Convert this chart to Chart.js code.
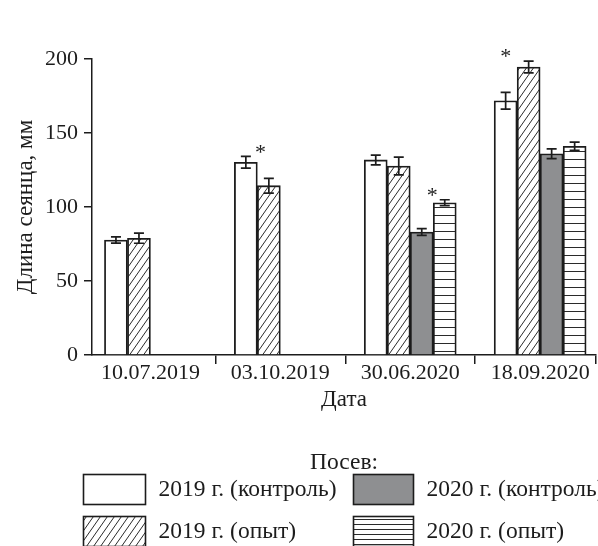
<!DOCTYPE html>
<html>
<head>
<meta charset="utf-8">
<script src="https://cdn.jsdelivr.net/npm/chart.js@4"></script>
<style>
  html, body { margin: 0; padding: 0; background: #fff; }
  #wrap { width: 598px; height: 546px; position: relative; overflow: hidden; }
</style>
</head>
<body>
<div id="wrap"><canvas id="c" width="598" height="546"></canvas></div>
<script>
// Sampling dates
const categories = ['10.07.2019', '03.10.2019', '30.06.2020', '18.09.2020'];

// Series names
const seriesLabels = ['2019 г. (контроль)', '2019 г. (опыт)', '2020 г. (контроль)', '2020 г. (опыт)'];

// Seedling length, mm (mean values)
const control2019    = [77.7, 130.2, 131.8, 171.8];
const experiment2019 = [78.9, 114.4, 127.7, 194.6];
const control2020    = [null, null, 83.1, 136.0];
const experiment2020 = [null, null, 102.9, 141.0];

// Error half-widths, mm
const control2019Err    = [2.1, 4.0, 3.3, 5.7];
const experiment2019Err = [3.4, 5.0, 6.0, 4.0];
const control2020Err    = [null, null, 2.3, 3.3];
const experiment2020Err = [null, null, 2.0, 2.8];

// Y axis ticks
const yTicks = [0, 50, 100, 150, 200];

// Significant differences: date index and the two compared series
const sigCategory = [1, 2, 3];
const sigPairs    = [[0, 1], [2, 3], [0, 1]];

const INK = '#1c1c1c';
const FONT = '"Liberation Serif", "Times New Roman", serif';

function diagonalPattern(w, h) {
  const c = document.createElement('canvas');
  c.width = w; c.height = h;
  const g = c.getContext('2d');
  g.fillStyle = '#fff';
  g.fillRect(0, 0, w, h);
  g.strokeStyle = '#2a2a2a';
  g.lineWidth = 1;
  for (const off of [-w, 0, w]) {
    g.beginPath();
    g.moveTo(off - w, 2 * h);
    g.lineTo(off + 2 * w, -h);
    g.stroke();
  }
  return g.createPattern(c, 'repeat');
}

function stripePattern(gap) {
  const c = document.createElement('canvas');
  c.width = 4; c.height = gap;
  const g = c.getContext('2d');
  g.fillStyle = '#fff';
  g.fillRect(0, 0, 4, gap);
  g.fillStyle = '#2a2a2a';
  g.fillRect(0, gap - 1, 4, 1);
  return g.createPattern(c, 'repeat');
}

const hatch = diagonalPattern(7, 10);
const stripes = stripePattern(8);
const keyStripes = stripePattern(5);

const toPoints = arr => arr.map((v, i) => ({ x: i, y: v }));

const seriesValues = [control2019, experiment2019, control2020, experiment2020];
const seriesErrors = [control2019Err, experiment2019Err, control2020Err, experiment2020Err];
const fills = ['#ffffff', hatch, '#8e8f91', stripes];

const datasets = seriesValues.map((vals, k) => ({
  label: seriesLabels[k],
  data: toPoints(vals),
  errors: seriesErrors[k],
  backgroundColor: fills[k],
  borderColor: INK,
  borderWidth: 1.8,
  borderSkipped: 'start',
  barThickness: 23
}));

// Whiskers for each bar
const errorBars = {
  id: 'errorBars',
  afterDatasetsDraw(chart, args, opts) {
    const ctx = chart.ctx;
    const y = chart.scales.y;
    ctx.save();
    ctx.strokeStyle = INK;
    ctx.lineWidth = opts.lineWidth;
    chart.data.datasets.forEach((ds, di) => {
      const meta = chart.getDatasetMeta(di);
      meta.data.forEach((bar, i) => {
        const v = ds.data[i].y, e = ds.errors[i];
        if (v == null || e == null) return;
        const top = y.getPixelForValue(v + e);
        const bot = y.getPixelForValue(v - e);
        const x = bar.x, c = opts.cap;
        ctx.beginPath();
        ctx.moveTo(x, top); ctx.lineTo(x, bot);
        ctx.moveTo(x - c, top); ctx.lineTo(x + c, top);
        ctx.moveTo(x - c, bot); ctx.lineTo(x + c, bot);
        ctx.stroke();
      });
    });
    ctx.restore();
  }
};

// Asterisks over significantly different pairs
const sigMarks = {
  id: 'sigMarks',
  afterDatasetsDraw(chart, args, opts) {
    const ctx = chart.ctx;
    const y = chart.scales.y;
    ctx.save();
    ctx.fillStyle = INK;
    ctx.font = opts.size + 'px ' + FONT;
    ctx.textAlign = 'center';
    ctx.textBaseline = 'alphabetic';
    sigCategory.forEach((cat, m) => {
      const [a, b] = sigPairs[m];
      const barA = chart.getDatasetMeta(a).data[cat];
      const barB = chart.getDatasetMeta(b).data[cat];
      const dsA = chart.data.datasets[a], dsB = chart.data.datasets[b];
      const topA = dsA.data[cat].y + dsA.errors[cat];
      const topB = dsB.data[cat].y + dsB.errors[cat];
      const py = y.getPixelForValue(Math.max(topA, topB)) - opts.gap;
      const t = opts.shift[m];
      const px = barA.x + (barB.x - barA.x) * t;
      ctx.fillText('*', px, py + opts.size * 0.47);
    });
    ctx.restore();
  }
};

// Two-column key under the chart
const seriesKey = {
  id: 'seriesKey',
  afterDraw(chart, args, opts) {
    const ctx = chart.ctx;
    ctx.save();
    ctx.font = opts.fontSize + 'px ' + FONT;
    ctx.fillStyle = INK;
    ctx.textAlign = 'center';
    ctx.textBaseline = 'alphabetic';
    ctx.fillText(opts.title, opts.titleX, opts.titleY);
    chart.data.datasets.forEach((ds, i) => {
      const col = Math.floor(i / 2), row = i % 2;
      const x = opts.colX[col], yTop = opts.rowY[row], w = opts.boxW[col];
      ctx.fillStyle = i === 3 ? keyStripes : ds.backgroundColor;
      ctx.fillRect(x, yTop, w, opts.boxH);
      ctx.strokeStyle = INK;
      ctx.lineWidth = 1.6;
      ctx.strokeRect(x, yTop, w, opts.boxH);
      ctx.fillStyle = INK;
      ctx.textAlign = 'left';
      ctx.fillText(ds.label, x + w + opts.gap, yTop + opts.textDy);
    });
    ctx.restore();
  }
};

new Chart(document.getElementById('c'), {
  type: 'bar',
  data: { datasets },
  plugins: [errorBars, sigMarks, seriesKey],
  options: {
    responsive: false,
    devicePixelRatio: 1,
    animation: false,
    layout: { padding: { top: 59, right: 2, bottom: 126, left: 0 } },
    plugins: {
      legend: { display: false },
      tooltip: { enabled: false },
      errorBars: { lineWidth: 1.7, cap: 5 },
      sigMarks: { size: 22, gap: 8, shift: [0.64, 0.46, 0] },
      seriesKey: {
        title: 'Посев:', titleX: 344, titleY: 469, fontSize: 23.5,
        colX: [83.5, 353.5], rowY: [474.5, 516.5], boxW: [62, 60], boxH: 30,
        gap: 13, textDy: 21
      }
    },
    scales: {
      x: {
        type: 'linear',
        offset: false,
        min: -0.45,
        max: 3.43,
        afterBuildTicks: scale => {
          const t = [];
          categories.forEach((c, i) => {
            t.push({ value: i });
            if (i < categories.length - 1) t.push({ value: i + 0.5 });
          });
          t.push({ value: scale.max });
          scale.ticks = t;
        },
        afterFit: scale => { scale.height = 65; },
        ticks: {
          autoSkip: false,
          maxRotation: 0,
          padding: -4,
          color: INK,
          font: { family: FONT, size: 22 },
          callback: v => Number.isInteger(v) ? categories[v] : ''
        },
        grid: {
          offset: false,
          drawOnChartArea: false,
          drawTicks: true,
          tickLength: 9,
          lineWidth: 1.5,
          color: ctx => (ctx.tick && Number.isInteger(ctx.tick.value)) ? 'rgba(0,0,0,0)' : INK
        },
        border: { display: true, color: INK, width: 1.5 },
        title: {
          display: true,
          text: 'Дата',
          color: INK,
          font: { family: FONT, size: 23 },
          padding: { top: 0, bottom: 6 }
        }
      },
      y: {
        min: 0,
        max: 200,
        afterBuildTicks: scale => { scale.ticks = yTicks.map(v => ({ value: v })); },
        afterFit: scale => { scale.width = 92; },
        ticks: {
          padding: 6,
          color: INK,
          font: { family: FONT, size: 22 }
        },
        grid: {
          drawOnChartArea: false,
          drawTicks: true,
          tickLength: 8,
          lineWidth: 1.5,
          color: INK
        },
        border: { display: true, color: INK, width: 1.5 },
        title: {
          display: true,
          text: 'Длина сеянца, мм',
          color: INK,
          font: { family: FONT, size: 23 },
          padding: { top: 12, bottom: 0 }
        }
      }
    }
  }
});
</script>
</body>
</html>
